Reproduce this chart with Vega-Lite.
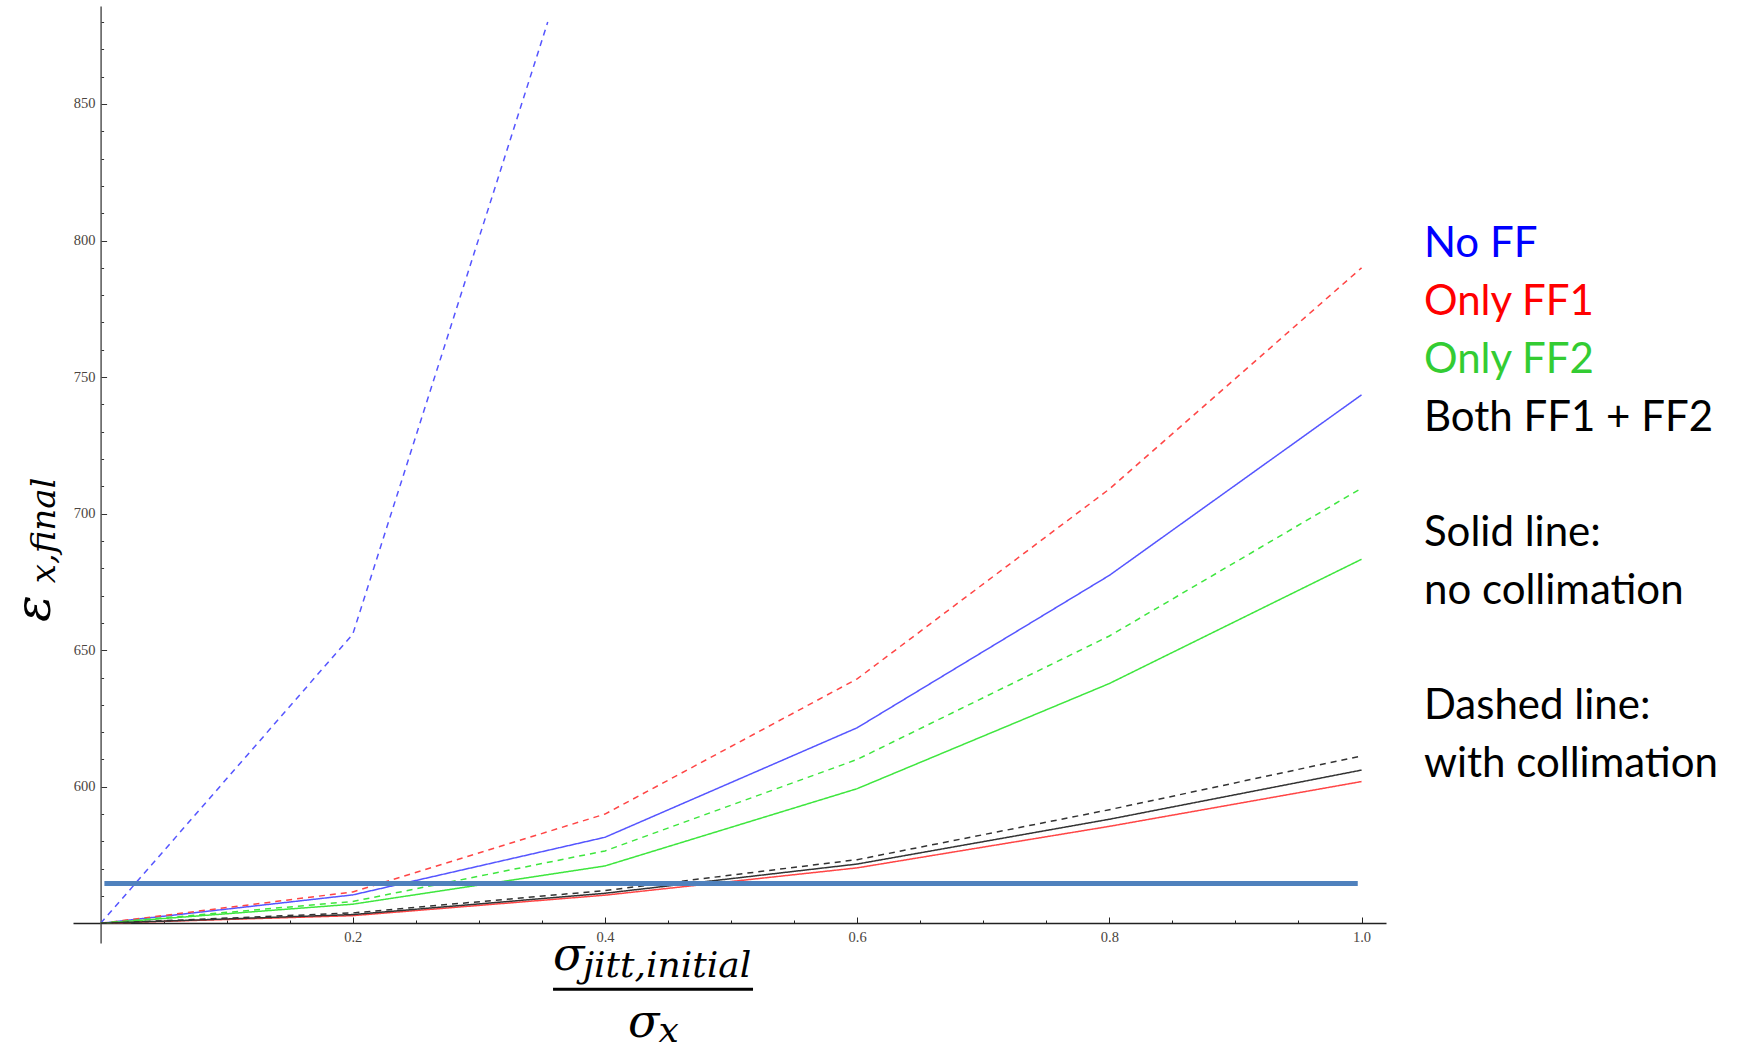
{
  "$schema": "https://vega.github.io/schema/vega-lite/v6.json",
  "width": 1313,
  "height": 937,
  "autosize": {"type": "none"},
  "padding": {"left": 73, "top": 6, "right": 367, "bottom": 107},
  "background": "white",
  "config": {
    "view": {"stroke": null},
    "axis": {"labelOverlap": false, "labelFlush": false, "labelBound": false, "labelFont": "Liberation Serif", "labelFontSize": 14.5, "labelColor": "#4a4440"}
  },
  "datasets": {
    "lines": [
      {"series": "No FF", "coll": "no", "x": 0, "y": 550},
      {"series": "No FF", "coll": "no", "x": 0.2, "y": 560.4},
      {"series": "No FF", "coll": "no", "x": 0.4, "y": 581.5},
      {"series": "No FF", "coll": "no", "x": 0.6, "y": 621.6},
      {"series": "No FF", "coll": "no", "x": 0.8, "y": 677.4},
      {"series": "No FF", "coll": "no", "x": 1.0, "y": 743.5},
      {"series": "No FF", "coll": "with", "x": 0, "y": 550},
      {"series": "No FF", "coll": "with", "x": 0.2, "y": 655.9},
      {"series": "No FF", "coll": "with", "x": 0.3546, "y": 880},
      {"series": "Only FF1", "coll": "no", "x": 0, "y": 550},
      {"series": "Only FF1", "coll": "no", "x": 0.2, "y": 552.8},
      {"series": "Only FF1", "coll": "no", "x": 0.4, "y": 560.3},
      {"series": "Only FF1", "coll": "no", "x": 0.6, "y": 570.3},
      {"series": "Only FF1", "coll": "no", "x": 0.8, "y": 585.5},
      {"series": "Only FF1", "coll": "no", "x": 1.0, "y": 601.9},
      {"series": "Only FF1", "coll": "with", "x": 0, "y": 550},
      {"series": "Only FF1", "coll": "with", "x": 0.2, "y": 561.5},
      {"series": "Only FF1", "coll": "with", "x": 0.4, "y": 590},
      {"series": "Only FF1", "coll": "with", "x": 0.6, "y": 639.5},
      {"series": "Only FF1", "coll": "with", "x": 0.8, "y": 709},
      {"series": "Only FF1", "coll": "with", "x": 1.0, "y": 790},
      {"series": "Only FF2", "coll": "no", "x": 0, "y": 550},
      {"series": "Only FF2", "coll": "no", "x": 0.2, "y": 557},
      {"series": "Only FF2", "coll": "no", "x": 0.4, "y": 571},
      {"series": "Only FF2", "coll": "no", "x": 0.6, "y": 599.3},
      {"series": "Only FF2", "coll": "no", "x": 0.8, "y": 637.8},
      {"series": "Only FF2", "coll": "no", "x": 1.0, "y": 683.3},
      {"series": "Only FF2", "coll": "with", "x": 0, "y": 550},
      {"series": "Only FF2", "coll": "with", "x": 0.2, "y": 558},
      {"series": "Only FF2", "coll": "with", "x": 0.4, "y": 576.5},
      {"series": "Only FF2", "coll": "with", "x": 0.6, "y": 610},
      {"series": "Only FF2", "coll": "with", "x": 0.8, "y": 655.2},
      {"series": "Only FF2", "coll": "with", "x": 1.0, "y": 709.3},
      {"series": "Both FF1 + FF2", "coll": "no", "x": 0, "y": 550},
      {"series": "Both FF1 + FF2", "coll": "no", "x": 0.2, "y": 553.2},
      {"series": "Both FF1 + FF2", "coll": "no", "x": 0.4, "y": 561},
      {"series": "Both FF1 + FF2", "coll": "no", "x": 0.6, "y": 571.7},
      {"series": "Both FF1 + FF2", "coll": "no", "x": 0.8, "y": 588.1},
      {"series": "Both FF1 + FF2", "coll": "no", "x": 1.0, "y": 606.1},
      {"series": "Both FF1 + FF2", "coll": "with", "x": 0, "y": 550},
      {"series": "Both FF1 + FF2", "coll": "with", "x": 0.2, "y": 553.8},
      {"series": "Both FF1 + FF2", "coll": "with", "x": 0.4, "y": 562},
      {"series": "Both FF1 + FF2", "coll": "with", "x": 0.6, "y": 573.3},
      {"series": "Both FF1 + FF2", "coll": "with", "x": 0.8, "y": 591.6},
      {"series": "Both FF1 + FF2", "coll": "with", "x": 1.0, "y": 611.3}
    ],
    "legendText": [
      {"label": "No FF", "grp": "No FF", "x": 1.0495, "y": 798.7},
      {"label": "Only FF1", "grp": "Only FF1", "x": 1.0495, "y": 777.4},
      {"label": "Only FF2", "grp": "Only FF2", "x": 1.0495, "y": 756.1},
      {"label": "Both FF1 + FF2", "grp": "other", "x": 1.0495, "y": 735.2},
      {"label": "Solid line:", "grp": "other", "x": 1.0495, "y": 693.0},
      {"label": "no collimation", "grp": "other", "x": 1.0495, "y": 671.7},
      {"label": "Dashed line:", "grp": "other", "x": 1.0495, "y": 629.6},
      {"label": "with collimation", "grp": "other", "x": 1.0495, "y": 608.3}
    ]
  },
  "encoding": {
    "x": {
      "field": "x", "type": "quantitative",
      "scale": {"domain": [-0.0219, 1.0194], "nice": false, "zero": false},
      "axis": {
        "orient": "bottom", "offset": -20, "title": null, "grid": false,
        "values": [0.05, 0.1, 0.15, 0.2, 0.25, 0.3, 0.35, 0.4, 0.45, 0.5, 0.55, 0.6, 0.65, 0.7, 0.75, 0.8, 0.85, 0.9, 0.95, 1.0],
        "labelExpr": "(round(datum.value*100) % 20 === 0) ? format(datum.value, '.1f') : ''",
        "domainColor": "#222222", "domainWidth": 1.4,
        "tickColor": "#222222", "tickWidth": 1,
        "tickSize": {"condition": {"test": "round(datum.value*100) % 20 === 0", "value": -6}, "value": -3},
        "labelFont": "Liberation Serif", "labelFontSize": 14.5, "labelColor": "#4a4440",
        "labelPadding": 13, "labelFlush": false, "labelOverlap": false
      }
    },
    "y": {
      "field": "y", "type": "quantitative",
      "scale": {"domain": [542.79, 885.88], "nice": false, "zero": false},
      "axis": {
        "orient": "left", "offset": -27.6, "title": null, "grid": false,
        "values": [560, 570, 580, 590, 600, 610, 620, 630, 640, 650, 660, 670, 680, 690, 700, 710, 720, 730, 740, 750, 760, 770, 780, 790, 800, 810, 820, 830, 840, 850, 860, 870, 880],
        "labelExpr": "(round(datum.value) % 50 === 0) ? format(datum.value, 'd') : ''",
        "domainColor": "#555555", "domainWidth": 1.5,
        "tickColor": "#333333", "tickWidth": 1,
        "tickSize": {"condition": {"test": "round(datum.value) % 50 === 0", "value": -6}, "value": -3},
        "labelFont": "Liberation Serif", "labelFontSize": 14.5, "labelColor": "#4a4440",
        "labelPadding": 11.6, "labelFlush": false, "labelOverlap": false
      }
    }
  },
  "layer": [
    {
      "data": {"name": "lines"},
      "mark": {"type": "line", "strokeWidth": 1.5},
      "encoding": {
        "color": {
          "field": "series", "type": "nominal", "legend": null,
          "scale": {"domain": ["No FF", "Only FF1", "Only FF2", "Both FF1 + FF2"], "range": ["#5555ff", "#ff4545", "#3ee63e", "#333333"]}
        },
        "strokeDash": {
          "field": "coll", "type": "nominal", "legend": null,
          "scale": {"domain": ["no", "with"], "range": [[1, 0], [6, 5]]}
        }
      }
    },
    {
      "data": {"values": [{"x": 0.003, "x2": 0.997, "y": 564.6}]},
      "mark": {"type": "rule", "color": "#4f81bd", "strokeWidth": 5},
      "encoding": {
        "x2": {"field": "x2"}
      }
    },
    {
      "data": {"name": "legendText"},
      "mark": {"type": "text", "font": "Lato", "fontSize": 42, "align": "left", "baseline": "middle"},
      "encoding": {
        "text": {"field": "label"},
        "color": {
          "field": "grp", "type": "nominal", "legend": null,
          "scale": {"domain": ["No FF", "Only FF1", "Only FF2", "other"], "range": ["#0000ff", "#ff0000", "#33cc33", "#000000"]}
        }
      }
    },
    {
      "data": {"values": [
        {"t": "σ", "x": 0.3588, "y": 532.9},
        {"t": "σ", "x": 0.4182, "y": 508.5}
      ]},
      "mark": {"type": "text", "font": "DejaVu Serif", "fontStyle": "italic", "fontSize": 46, "align": "left", "baseline": "alphabetic", "color": "#000000"},
      "encoding": {
        "text": {"field": "t"}
      }
    },
    {
      "data": {"values": [
        {"t": "jitt,initial", "x": 0.3825, "y": 530.4},
        {"t": "x", "x": 0.4425, "y": 506.6}
      ]},
      "mark": {"type": "text", "font": "DejaVu Serif", "fontStyle": "italic", "fontSize": 36, "align": "left", "baseline": "alphabetic", "color": "#000000"},
      "encoding": {
        "text": {"field": "t"}
      }
    },
    {
      "data": {"values": [{"x": 0.3588, "x2": 0.5174, "y": 525.9}]},
      "mark": {"type": "rule", "color": "#000000", "strokeWidth": 3},
      "encoding": {
        "x2": {"field": "x2"}
      }
    },
    {
      "data": {"values": [{"t": "ε", "x": -0.0405, "y": 660.3}]},
      "mark": {"type": "text", "font": "DejaVu Serif", "fontStyle": "italic", "fontSize": 50, "align": "left", "baseline": "alphabetic", "angle": 270, "color": "#000000"},
      "encoding": {
        "text": {"field": "t"}
      }
    },
    {
      "data": {"values": [{"t": "x,final", "x": -0.0365, "y": 674.5}]},
      "mark": {"type": "text", "font": "DejaVu Serif", "fontStyle": "italic", "fontSize": 34, "align": "left", "baseline": "alphabetic", "angle": 270, "color": "#000000"},
      "encoding": {
        "text": {"field": "t"}
      }
    }
  ],
  "resolve": {"scale": {"color": "independent"}}
}
